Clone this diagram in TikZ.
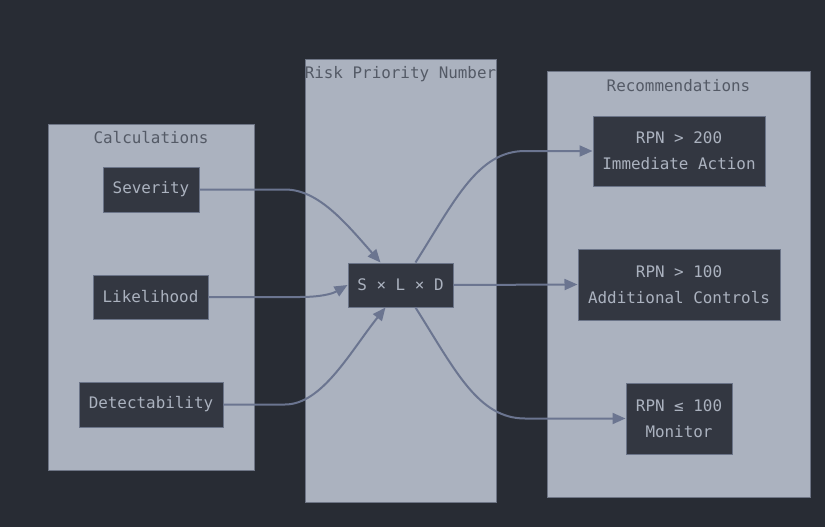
\documentclass[tikz,border=0pt]{standalone}
\usepackage{fontspec}
\setmonofont{DejaVu Sans Mono}
\usetikzlibrary{arrows.meta,calc}
\definecolor{bg}{HTML}{282C34}
\definecolor{clfill}{HTML}{ABB2BF}
\definecolor{clline}{HTML}{6E7585}
\definecolor{nfill}{HTML}{333741}
\definecolor{nline}{HTML}{6B7488}
\definecolor{ntext}{HTML}{ABB2BF}
\definecolor{ltext}{HTML}{545A66}
\definecolor{edge}{HTML}{6B7590}
\begin{document}
\begin{tikzpicture}[x=1pt,y=-1pt,
  cluster/.style={draw=clline,fill=clfill,line width=1pt},
  cltitle/.style={text=ltext,font=\ttfamily\fontsize{15.9}{18}\selectfont,inner sep=0pt},
  box/.style={draw=nline,fill=nfill,line width=1pt,text=ntext,font=\ttfamily\fontsize{15.9}{26}\selectfont,inner sep=0pt,align=center},
  conn/.style={draw=edge,line width=2pt,-{Triangle[length=13pt,width=11pt]}}]
\fill[bg] (0,0) rectangle (825,527);
\useasboundingbox (0,0) rectangle (825,527);
% clusters
\draw[cluster] (48,124) rectangle (254,470);
\draw[cluster] (305,60) rectangle (496,502);
\draw[cluster] (547,72) rectangle (810,497);
\node[cltitle] (t1) at (151,138) {Calculations};
\node[cltitle] (t2) at (400.5,74) {Risk Priority Number};
\node[cltitle] (t3) at (678.5,86) {Recommendations};
% nodes
\node[box,minimum width=96pt,minimum height=45pt] (sev) at (151,189.5) {Severity};
\node[box,minimum width=115pt,minimum height=44pt] (lik) at (150.5,297) {Likelihood};
\node[box,minimum width=144pt,minimum height=45pt] (det) at (151,404.5) {Detectability};
\node[box,minimum width=105pt,minimum height=44pt] (sxl) at (400.5,285) {S × L × D};
\node[box,minimum width=172pt,minimum height=70pt] (r1) at (679,151) {RPN > 200\\Immediate Action};
\node[box,minimum width=202pt,minimum height=71pt] (r2) at (679,284.5) {RPN > 100\\Additional Controls};
\node[box,minimum width=106pt,minimum height=71pt] (r3) at (679,418.5) {RPN ≤ 100\\Monitor};
% coordinates
\coordinate (inA) at ($(sxl.north)+(-20,0)$);
\coordinate (inC) at ($(sxl.south)+(-15,0)$);
\coordinate (outA) at ($(sxl.north)+(15,0)$);
\coordinate (outC) at ($(sxl.south)+(15,0)$);
% edges
\draw[conn] (sev.east) -- (285,189.5) .. controls (318,189.5) and (345,222) .. (inA);
\draw[conn] (lik.east) -- (300,297) .. controls (320,297) and (332,294) .. (sxl.west);
\draw[conn] (det.east) -- (285,404.5) .. controls (322,404.5) and (350,352) .. (inC);
\draw[conn] (outA) .. controls (455,200) and (478,151) .. (525,151) -- (r1.west);
\draw[conn] (sxl.east) -- (r2.west);
\draw[conn] (outC) .. controls (455,370) and (478,418.5) .. (525,418.5) -- (r3.west);
\end{tikzpicture}
\end{document}
